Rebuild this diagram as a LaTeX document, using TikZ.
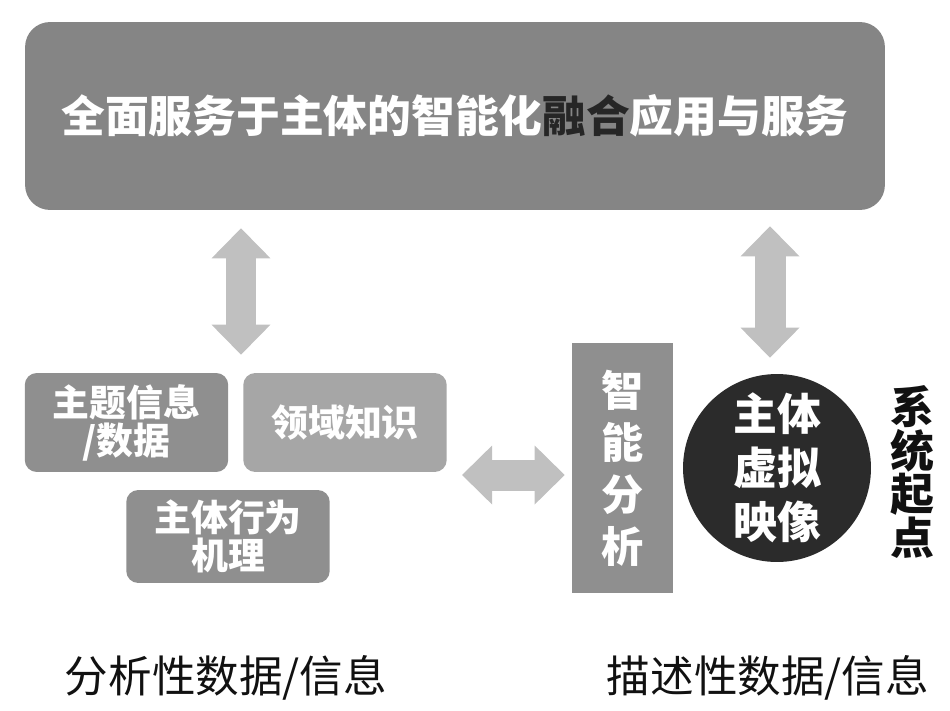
\documentclass[tikz,border=0pt]{standalone}
\usepackage{fontspec}
\setmainfont{Noto Sans CJK SC}
\usetikzlibrary{arrows.meta,positioning,calc}
\definecolor{panelgray}{HTML}{858585}
\definecolor{boxgray}{HTML}{8F8F8F}
\definecolor{lightbox}{HTML}{A6A6A6}
\definecolor{arrgray}{HTML}{C0C0C0}
\definecolor{darkdisc}{HTML}{2B2B2B}
\definecolor{fusion}{HTML}{262626}
\definecolor{ink}{HTML}{111111}
\tikzset{
  topbox/.style={fill=panelgray,rounded corners=0.5cm,minimum width=17.2cm,
                 minimum height=3.76cm,text=white,
                 font=\bfseries\fontsize{24.9}{28}\selectfont},
  infobox/.style={fill=boxgray,rounded corners=0.24cm,minimum width=4.07cm,
                  minimum height=1.98cm,align=center,text=white,inner sep=2pt,
                  font=\bfseries\fontsize{21}{21.6}\selectfont},
  analbox/.style={fill=boxgray,minimum width=2.02cm,minimum height=5cm,
                  align=center,text=white,inner sep=2pt,
                  font=\bfseries\fontsize{24}{29.6}\selectfont},
  imgdisc/.style={circle,fill=darkdisc,minimum size=3.76cm,align=center,
                  text=white,inner sep=0pt,
                  font=\bfseries\fontsize{25}{30.7}\selectfont},
  sidetext/.style={align=center,text=ink,inner sep=0pt,
                   font=\bfseries\fontsize{25}{25}\selectfont},
  captext/.style={text=ink,inner sep=0pt,font=\fontsize{24.8}{28}\selectfont},
  bigarr/.style={draw=arrgray,line width=0.62cm,
                 {Triangle[length=0.6cm,width=1.18cm,line width=0pt]}-{Triangle[length=0.6cm,width=1.18cm,line width=0pt]}}
}
\begin{document}
\begin{tikzpicture}[x=0.02cm,y=-0.02cm]
  \useasboundingbox (0,0) rectangle (950,710);
  % top service layer
  \node[topbox] (apps) at (455,116)
    {全面服务于主体的智能化{\color{fusion}融合}应用与服务};
  % analytic data / information
  \node[infobox] (topic) at (126.5,422.5) {主题信息\\/数据};
  \node[infobox,fill=lightbox] (know) at (345,422.5) {领域知识};
  \node[infobox,minimum height=1.86cm] (mech) at (228,536.5) {主体行为\\机理};
  % analysis and virtual image
  \node[analbox] (ai) at (622.5,468) {智\\能\\分\\析};
  \node[imgdisc] (image) at (777,468) {主体\\虚拟\\映像};
  \node[sidetext] (start) at (912,472) {系\\统\\起\\点};
  % captions
  \node[captext] (anacap) at (226,678) {分析性数据/信息};
  \node[captext] (descap) at (768,678) {描述性数据/信息};
  % arrows
  \coordinate (lx) at (241,0);
  \coordinate (rx) at (770,0);
  \coordinate (hy) at (0,475);
  \draw[bigarr,shorten <=0.36cm,shorten >=0.36cm] (apps.south -| lx) -- (lx |- topic.north);
  \draw[bigarr,shorten <=0.32cm,shorten >=0.32cm] (apps.south -| rx) -- (rx |- image.north);
  \draw[bigarr,shorten <=0.3cm,shorten >=0.14cm] (know.east |- hy) -- (ai.west |- hy);
\end{tikzpicture}
\end{document}
